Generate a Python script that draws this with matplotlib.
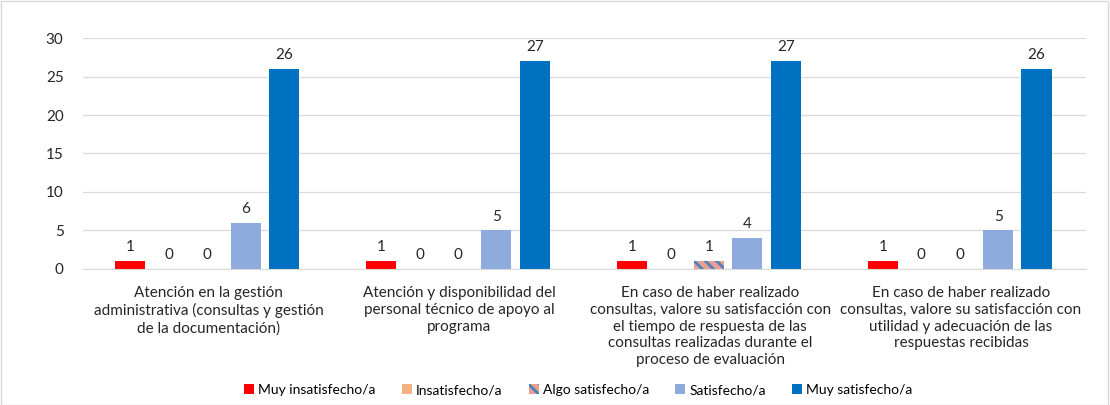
import matplotlib
matplotlib.use("Agg")
import matplotlib.pyplot as plt
import numpy as np

categories = [
    "Atención en la gestión\nadministrativa (consultas y gestión\nde la documentación)",
    "Atención y disponibilidad del\npersonal técnico de apoyo al\nprograma",
    "En caso de haber realizado\nconsultas, valore su satisfacción con\nel tiempo de respuesta de las\nconsultas realizadas durante el\nproceso de evaluación",
    "En caso de haber realizado\nconsultas, valore su satisfacción con\nutilidad y adecuación de las\nrespuestas recibidas",
]
series_names = ["Muy insatisfecho/a", "Insatisfecho/a", "Algo satisfecho/a", "Satisfecho/a", "Muy satisfecho/a"]
muy_insatisfecho = [1, 1, 1, 1]
insatisfecho = [0, 0, 0, 0]
algo_satisfecho = [0, 0, 1, 0]
satisfecho = [6, 5, 4, 5]
muy_satisfecho = [26, 27, 27, 26]
yticks = [0, 5, 10, 15, 20, 25, 30]

plt.rcParams['font.family'] = ['Lato', 'DejaVu Sans']
plt.rcParams['hatch.linewidth'] = 2.0

fig = plt.figure(figsize=(11.1, 4.05), dpi=100)
ax = fig.add_axes([0.0748, 0.336, 0.904, 0.570])

series = [muy_insatisfecho, insatisfecho, algo_satisfecho, satisfecho, muy_satisfecho]
colors = ["#FF0000", "#F4B183", "#F4A582", "#8FAADC", "#0070C0"]
x = np.arange(len(categories))
width = 0.12
step = 0.153
handles = []
for i, (vals, name, c) in enumerate(zip(series, series_names, colors)):
    pos = x + (i - 2) * step - 0.005
    if i == 2:
        bars = ax.bar(pos, vals, width, facecolor="#E8A090", edgecolor="#4F81BD",
                      hatch="\\\\\\", linewidth=0, label=name)
    else:
        bars = ax.bar(pos, vals, width, color=c, label=name)
    handles.append(bars)
    for p, v in zip(pos, vals):
        ax.annotate(str(v), (p, v), xytext=(0, 5), textcoords="offset points",
                    ha="center", va="bottom", fontsize=11, color="#262626")

ax.set_xlim(-0.5, len(categories) - 0.5)
ax.set_ylim(0, 30)
ax.set_yticks(yticks)
ax.yaxis.grid(True, color="#D9D9D9", linewidth=0.9)
ax.set_axisbelow(True)
for s in ["top", "right", "left"]:
    ax.spines[s].set_visible(False)
ax.spines["bottom"].set_color("#D9D9D9")
ax.tick_params(axis="both", length=0, labelsize=11, labelcolor="#262626")
ax.tick_params(axis="y", pad=14)
ax.set_xticks(x)
ax.set_xticklabels(categories, fontsize=11, linespacing=1.27)
ax.tick_params(axis="x", pad=12)

fig.legend(handles=handles, labels=series_names, loc="center", bbox_to_anchor=(0.521, 0.037),
           ncol=5, frameon=False, fontsize=10, handlelength=0.7, handleheight=0.7,
           handletextpad=0.3, columnspacing=1.9)

border = plt.Rectangle((0.001, 0.001), 0.997, 0.997, transform=fig.transFigure,
                       fill=False, edgecolor="#D9D9D9", linewidth=1)
fig.patches.append(border)

fig.savefig("out.png", dpi=100)
